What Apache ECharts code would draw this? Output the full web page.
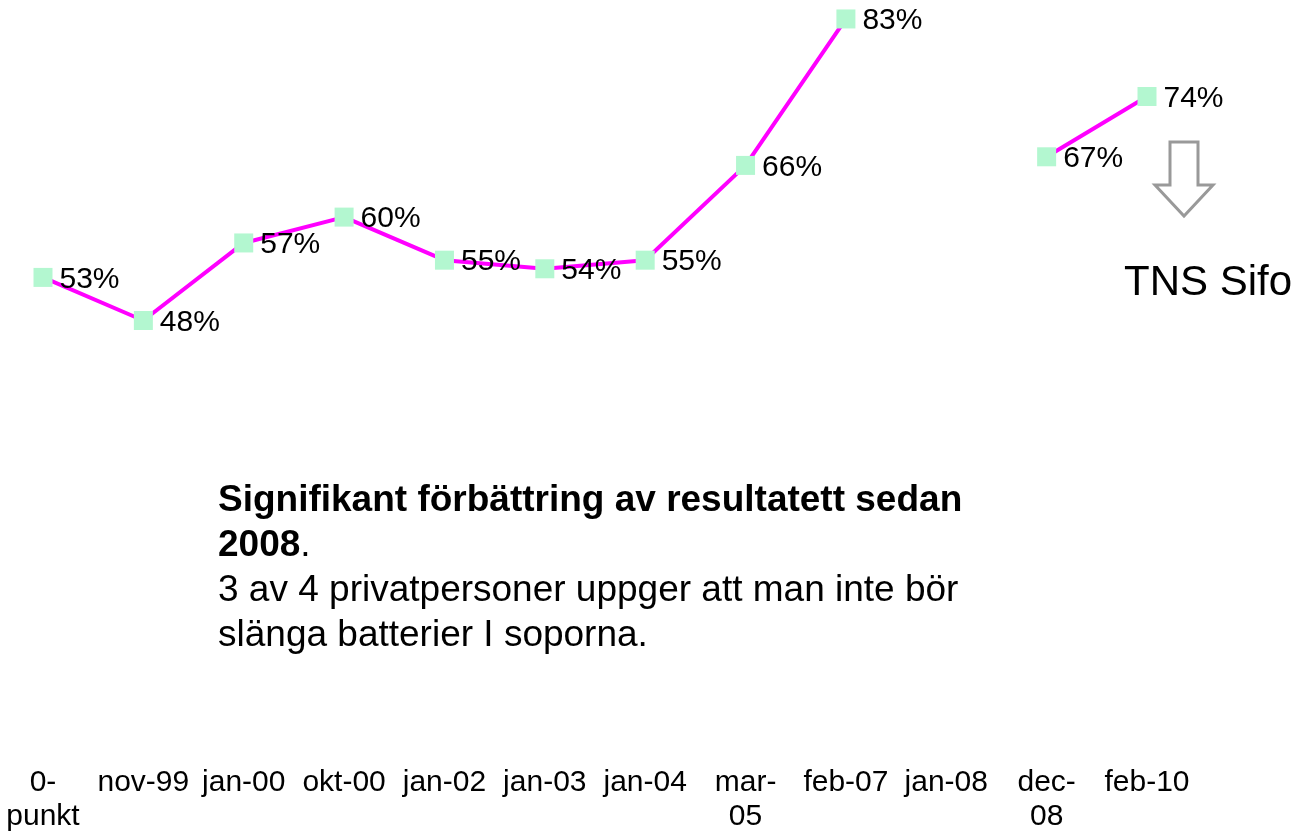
<!DOCTYPE html>
<html>
<head>
<meta charset="utf-8">
<script src="https://cdn.jsdelivr.net/npm/echarts@6/dist/echarts.min.js"></script>
<style>
html,body{margin:0;padding:0;background:#fff;}
#chart{width:1299px;height:834px;}
</style>
</head>
<body>
<div id="chart"></div>
<script>
const categories = ["0-punkt","nov-99","jan-00","okt-00","jan-02","jan-03","jan-04","mar-05","feb-07","jan-08","dec-08","feb-10"];
const tickLabels = ["0-\npunkt","nov-99","jan-00","okt-00","jan-02","jan-03","jan-04","mar-\n05","feb-07","jan-08","dec-\n08","feb-10"];
const values = [53, 48, 57, 60, 55, 54, 55, 66, 83, null, 67, 74];
const sourceLabel = "TNS Sifo";
const noteBold1 = "Signifikant förbättring av resultatett sedan";
const noteBold2 = "2008";
const noteLine3 = "3 av 4 privatpersoner uppger att man inte bör";
const noteLine4 = "slänga batterier I soporna.";

const chart = echarts.init(document.getElementById('chart'), null, {renderer:'canvas'});
const FONT = 'Liberation Sans, Arial, sans-serif';
const option = {
  animation: false,
  backgroundColor: '#ffffff',
  grid: {left: 43, right: 152, top: 0, bottom: 96.5, containLabel: false},
  xAxis: {
    type: 'category',
    data: categories,
    boundaryGap: false,
    axisLine: {show: false},
    axisTick: {show: false},
    splitLine: {show: false},
    axisLabel: {
      interval: 0,
      margin: 32,
      color: '#000',
      fontFamily: FONT,
      fontSize: 30,
      lineHeight: 34,
      formatter: (v, i) => tickLabels[i]
    }
  },
  yAxis: {
    type: 'value', min: 0, max: 85.2, show: false,
    splitLine: {show: false}
  },
  series: [{
    type: 'line',
    data: values,
    connectNulls: false,
    symbol: 'rect',
    symbolSize: 19,
    lineStyle: {color: '#ff00ff', width: 4},
    itemStyle: {color: '#b3f7d0', borderWidth: 0},
    label: {
      show: true,
      position: 'right',
      distance: 7,
      formatter: '{c}%',
      color: '#000',
      fontFamily: FONT,
      fontSize: 30,
      offset: [0, 2]
    },
    z: 2
  }],
  graphic: [
    {
      type: 'polygon',
      shape: {points: [[1170,142],[1198,142],[1198,185],[1213,185],[1184,216],[1155,185],[1170,185]]},
      style: {fill: '#ffffff', stroke: '#999999', lineWidth: 3}
    },
    {
      type: 'text', left: 1124, top: 283.5 - 21,
      style: {text: sourceLabel, fill: '#000', font: '42px ' + FONT}
    },
    {
      type: 'text', x: 218, y: 501,
      style: {text: noteBold1, fill: '#000', font: 'bold 37px ' + FONT, verticalAlign: 'middle'}
    },
    {
      type: 'text', x: 218, y: 546,
      style: {
        text: '{b|' + noteBold2 + '}{n|.}', verticalAlign: 'middle',
        rich: {
          b: {fontFamily: FONT, fontSize: 37, fontWeight: 'bold', fill: '#000', color: '#000'},
          n: {fontFamily: FONT, fontSize: 37, fill: '#000', color: '#000'}
        }
      }
    },
    {
      type: 'text', x: 218, y: 591,
      style: {text: noteLine3, fill: '#000', font: '37px ' + FONT, verticalAlign: 'middle'}
    },
    {
      type: 'text', x: 218, y: 636,
      style: {text: noteLine4, fill: '#000', font: '37px ' + FONT, verticalAlign: 'middle'}
    }
  ]
};
chart.setOption(option);
</script>
</body>
</html>
